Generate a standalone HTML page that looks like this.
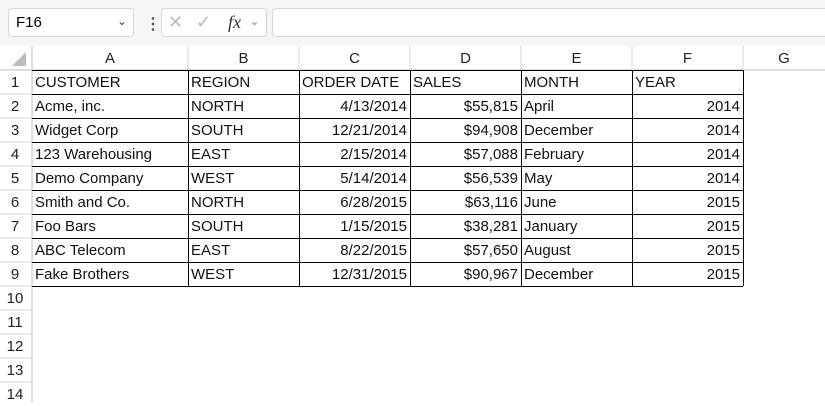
<!DOCTYPE html>
<html><head><meta charset="utf-8"><style>
body{margin:0;width:825px;height:402px;overflow:hidden;background:#fff;font-family:"Liberation Sans",Calibri,sans-serif;position:relative}
.top{position:absolute;left:0;top:0;width:825px;height:46px;background:#f5f5f5}
.box{position:absolute;background:#fff;border:1px solid #d6d6d6;border-radius:4px;box-sizing:border-box}
.hdr{position:absolute;font-size:15px;color:#222;text-align:center;line-height:23px}
.cell{position:absolute;font-size:15px;color:#111;line-height:23px;white-space:nowrap;box-sizing:border-box;padding:0 3px}
.r{text-align:right}
</style></head><body>
<div class="top"></div>
<div class="box" style="left:8px;top:8px;width:126px;height:29px"><span style="position:absolute;left:7px;top:5px;font-size:15px">F16</span><span style="position:absolute;right:6px;top:5px;font-size:12px;color:#444">&#8964;</span></div>
<div style="position:absolute;left:145px;top:14px;font-size:16px;font-weight:bold;color:#555">&#8942;</div>
<div class="box" style="left:161px;top:8px;width:106px;height:29px"><span style="position:absolute;left:6px;top:3px;font-size:18px;color:#bbb">&#10005;</span><span style="position:absolute;left:34px;top:3px;font-size:18px;color:#bbb">&#10003;</span><span style="position:absolute;left:66px;top:3px;font-size:18px;font-style:italic;font-family:'Liberation Serif',serif;color:#333">fx</span><span style="position:absolute;left:88px;top:6px;font-size:11px;color:#777">&#8964;</span></div>
<div class="box" style="left:272px;top:8px;width:560px;height:29px"></div>
<svg style="position:absolute;left:0;top:46px" width="825" height="356">
<rect x="0" y="0" width="825" height="24" fill="#fff"/>
<polygon points="26,6 26,20 12,20" fill="#bdbdbd"/>
<line x1="0" y1="24" x2="825" y2="24" stroke="#bdbdbd"/>
<line x1="32" y1="0" x2="32" y2="356" stroke="#bdbdbd"/>
<g stroke="#d4d4d4">
<line x1="188" y1="0" x2="188" y2="24"/><line x1="299" y1="0" x2="299" y2="24"/><line x1="410" y1="0" x2="410" y2="24"/><line x1="521" y1="0" x2="521" y2="24"/><line x1="632" y1="0" x2="632" y2="24"/><line x1="743" y1="0" x2="743" y2="24"/>
<line x1="0" y1="48" x2="32" y2="48"/><line x1="0" y1="72" x2="32" y2="72"/><line x1="0" y1="96" x2="32" y2="96"/><line x1="0" y1="120" x2="32" y2="120"/><line x1="0" y1="144" x2="32" y2="144"/><line x1="0" y1="168" x2="32" y2="168"/><line x1="0" y1="192" x2="32" y2="192"/><line x1="0" y1="216" x2="32" y2="216"/><line x1="0" y1="240" x2="32" y2="240"/><line x1="0" y1="264" x2="32" y2="264"/><line x1="0" y1="288" x2="32" y2="288"/><line x1="0" y1="312" x2="32" y2="312"/><line x1="0" y1="336" x2="32" y2="336"/>
</g>
<g stroke="#000" stroke-width="1">
<line x1="32" y1="24.5" x2="743" y2="24.5"/><line x1="32" y1="48.5" x2="743" y2="48.5"/><line x1="32" y1="72.5" x2="743" y2="72.5"/><line x1="32" y1="96.5" x2="743" y2="96.5"/><line x1="32" y1="120.5" x2="743" y2="120.5"/><line x1="32" y1="144.5" x2="743" y2="144.5"/><line x1="32" y1="168.5" x2="743" y2="168.5"/><line x1="32" y1="192.5" x2="743" y2="192.5"/><line x1="32" y1="216.5" x2="743" y2="216.5"/><line x1="32" y1="240.5" x2="743" y2="240.5"/>
<line x1="188.5" y1="24" x2="188.5" y2="240"/><line x1="299.5" y1="24" x2="299.5" y2="240"/><line x1="410.5" y1="24" x2="410.5" y2="240"/><line x1="521.5" y1="24" x2="521.5" y2="240"/><line x1="632.5" y1="24" x2="632.5" y2="240"/><line x1="743.5" y1="24" x2="743.5" y2="240"/>
</g>
</svg>
<div id="g"></div>
<script>
const cols=[32,188,299,410,521,632,743,825];
const letters=['A','B','C','D','E','F','G'];
const rows=[
['CUSTOMER','REGION','ORDER DATE','SALES','MONTH','YEAR'],
['Acme, inc.','NORTH','4/13/2014','$55,815','April','2014'],
['Widget Corp','SOUTH','12/21/2014','$94,908','December','2014'],
['123 Warehousing','EAST','2/15/2014','$57,088','February','2014'],
['Demo Company','WEST','5/14/2014','$56,539','May','2014'],
['Smith and Co.','NORTH','6/28/2015','$63,116','June','2015'],
['Foo Bars','SOUTH','1/15/2015','$38,281','January','2015'],
['ABC Telecom','EAST','8/22/2015','$57,650','August','2015'],
['Fake Brothers','WEST','12/31/2015','$90,967','December','2015']];
const g=document.getElementById('g');
letters.forEach((L,i)=>{const d=document.createElement('div');d.className='hdr';d.style.left=cols[i]+'px';d.style.top='47px';d.style.width=(cols[i+1]-cols[i])+'px';d.textContent=L;


g.appendChild(d);});
for(let r=1;r<=14;r++){const d=document.createElement('div');d.className='hdr';d.style.left='0px';d.style.top=(70+(r-1)*24+1)+'px';d.style.width='30px';d.textContent=r;


g.appendChild(d);}
rows.forEach((row,ri)=>row.forEach((v,ci)=>{const d=document.createElement('div');d.className='cell'+(ri>0&&(ci==2||ci==3||ci==5)?' r':'');d.style.left=cols[ci]+'px';d.style.top=(70+ri*24+1)+'px';d.style.width=(cols[ci+1]-cols[ci])+'px';d.textContent=v;


g.appendChild(d);}));
</script>
</body></html>
